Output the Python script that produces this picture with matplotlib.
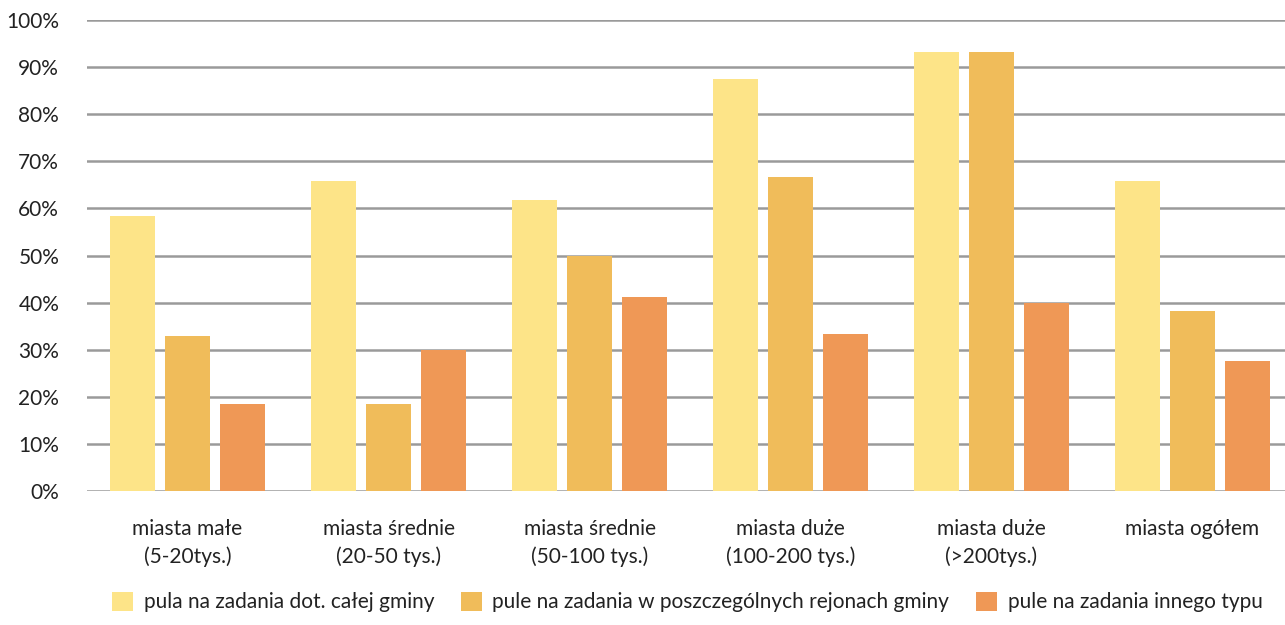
import matplotlib
matplotlib.use("Agg")
import matplotlib.pyplot as plt
import numpy as np
from matplotlib.patches import Patch

categories = ["miasta małe\n(5-20tys.)", "miasta średnie\n(20-50 tys.)", "miasta średnie\n(50-100 tys.)",
              "miasta duże\n(100-200 tys.)", "miasta duże\n(>200tys.)", "miasta ogółem"]
series_names = ["pula na zadania dot. całej gminy",
                "pule na zadania w poszczególnych rejonach gminy",
                "pule na zadania innego typu"]
s1 = [58.3, 65.8, 61.8, 87.5, 93.3, 65.9]
s2 = [33.0, 18.5, 50.0, 66.7, 93.3, 38.2]
s3 = [18.5, 30.0, 41.2, 33.3, 40.0, 27.6]
yticks = [0, 10, 20, 30, 40, 50, 60, 70, 80, 90, 100]
ytick_labels = [f"{v}%" for v in yticks]
colors = ["#FDE488", "#F0BC5A", "#EF9856"]

plt.rcParams['font.family'] = ['Lato', 'DejaVu Sans']
fig = plt.figure(figsize=(12.85, 6.25), dpi=100)
ax = fig.add_axes([87/1285, 1-491/625, 1-87/1285, (491-20)/625])

x = np.arange(len(categories))
w = 45/201
off = 55/201
for i, (s, c) in enumerate(zip([s1, s2, s3], colors)):
    ax.bar(x + (i-1)*off, s, width=w, color=c, zorder=3, label=series_names[i])

ax.set_ylim(0, 100)
ax.set_xlim(-0.5, 5.46)
ax.set_yticks(yticks)
ax.set_yticklabels(ytick_labels, fontsize=15, color="#222222")
ax.set_xticks(x)
ax.set_xticklabels(categories, fontsize=15, color="#222222", linespacing=1.45)
ax.tick_params(axis='both', length=0)
ax.tick_params(axis='y', pad=20)
ax.tick_params(axis='x', pad=20)
ax.yaxis.grid(True, color="#9a9a9a", linewidth=1.8, zorder=0)
for sp in ax.spines.values():
    sp.set_visible(False)

handles = [Patch(facecolor=c, edgecolor='none') for c in colors]
fig.legend(handles, series_names, loc='lower center', ncol=3, frameon=False,
           fontsize=15, bbox_to_anchor=(0.535, -0.01), handlelength=1.0, handleheight=1.0,
           handletextpad=0.5, columnspacing=1.3, labelcolor="#222222")

fig.savefig("out.png", dpi=100)
